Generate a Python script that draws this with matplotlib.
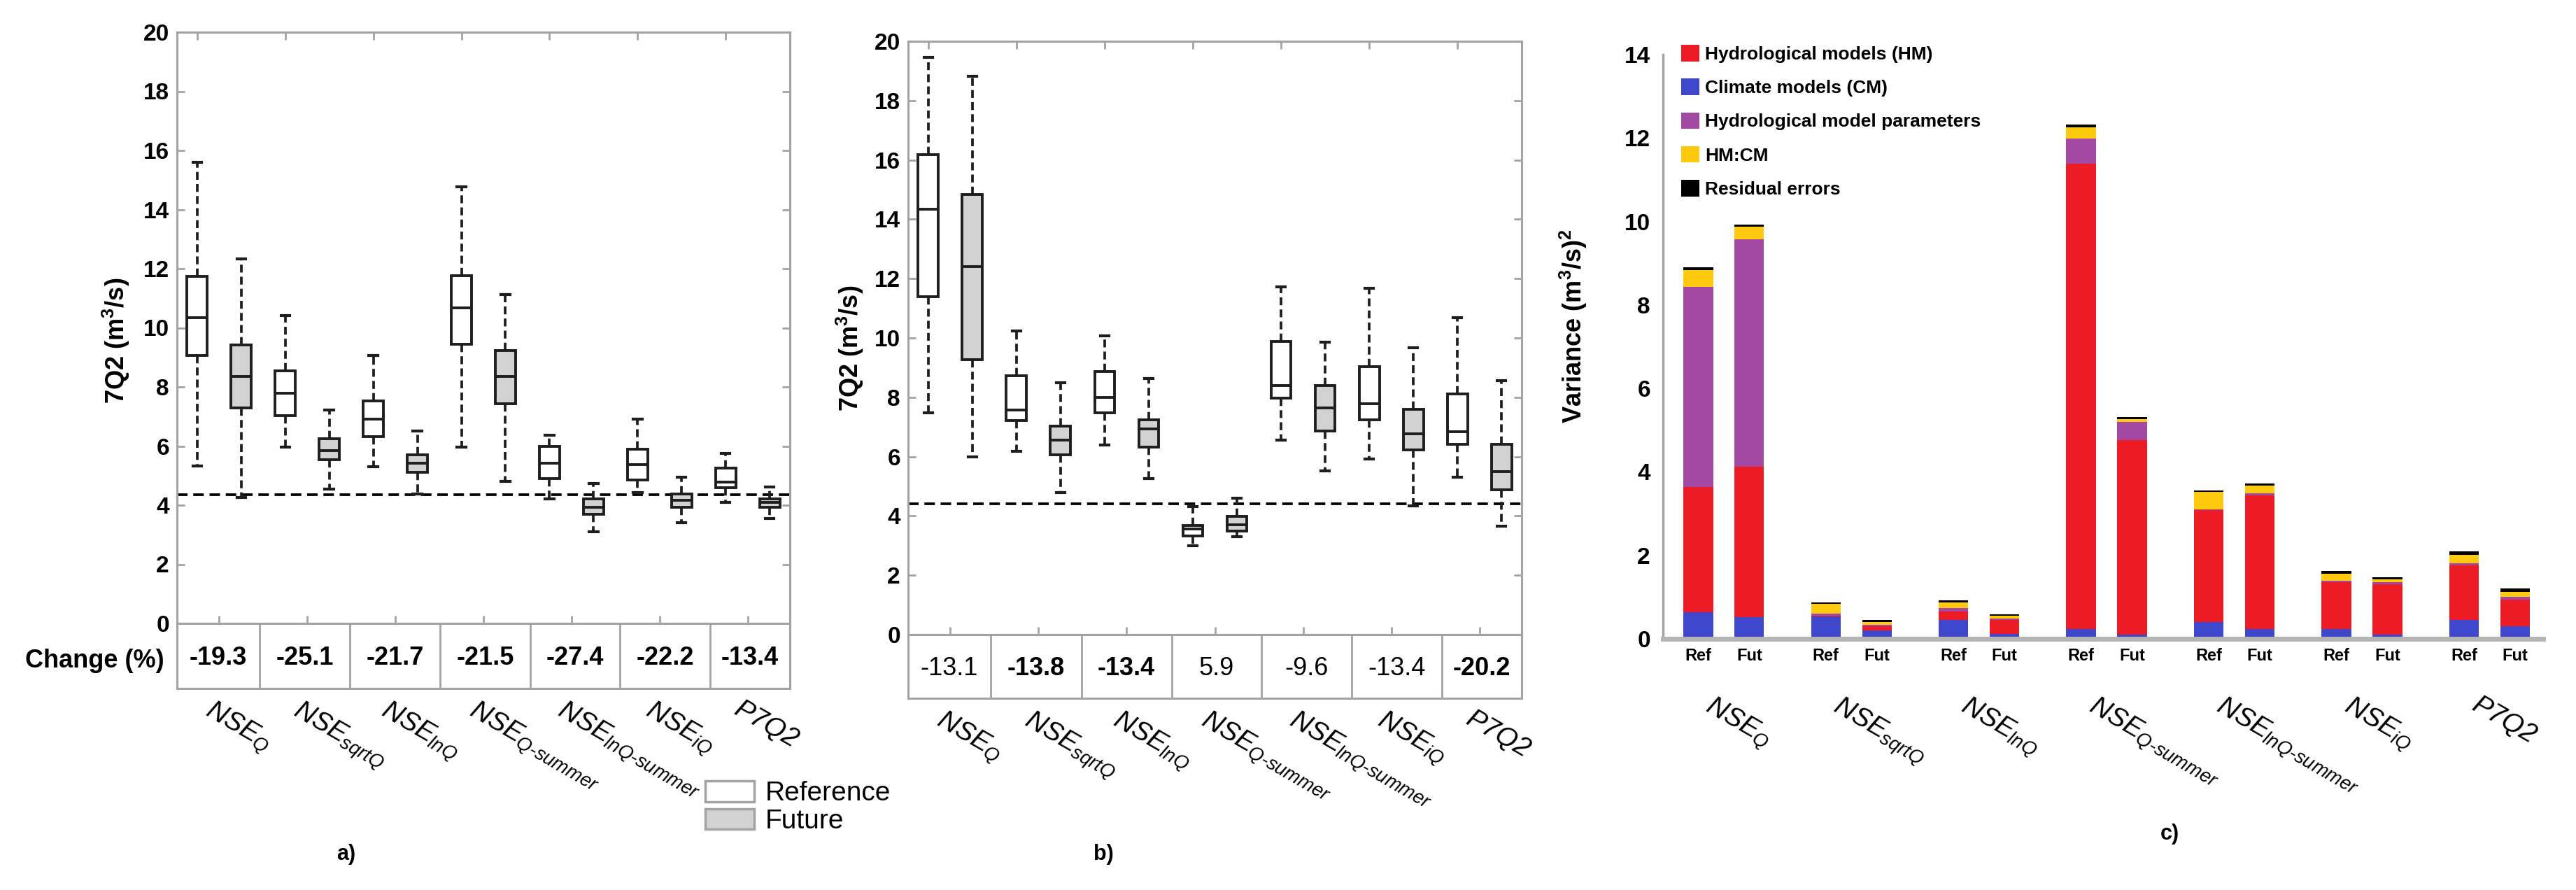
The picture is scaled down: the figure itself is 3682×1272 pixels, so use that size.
import numpy as np
import matplotlib
matplotlib.use("Agg")
import matplotlib.pyplot as plt
from matplotlib.patches import Patch
from matplotlib.transforms import blended_transform_factory

plt.rcParams['font.family'] = ['Liberation Sans', 'DejaVu Sans']
plt.rcParams['mathtext.fontset'] = 'custom'
plt.rcParams['mathtext.rm'] = 'Liberation Sans'
plt.rcParams['mathtext.it'] = 'Liberation Sans:italic'
plt.rcParams['mathtext.bf'] = 'Liberation Sans:bold'

# ---- data ----
categories = [r'$NSE_{Q}$', r'$NSE_{sqrtQ}$', r'$NSE_{lnQ}$', r'$NSE_{Q\text{-}summer}$',
              r'$NSE_{lnQ\text{-}summer}$', r'$NSE_{iQ}$', 'P7Q2']

# five-number summaries (lower whisker, q1, median, q3, upper whisker), 7Q2 in m3/s
a_ref = [[5.32, 9.07, 10.35, 11.73, 15.60],
         [5.97, 7.02, 7.78, 8.55, 10.41],
         [5.29, 6.31, 6.91, 7.53, 9.07],
         [5.97, 9.45, 10.67, 11.76, 14.77],
         [4.22, 4.90, 5.41, 5.99, 6.37],
         [4.43, 4.86, 5.38, 5.89, 6.91],
         [4.10, 4.58, 4.77, 5.25, 5.76]]
a_fut = [[4.26, 7.30, 8.36, 9.41, 12.33],
         [4.54, 5.54, 5.84, 6.25, 7.21],
         [4.39, 5.12, 5.41, 5.71, 6.50],
         [4.81, 7.43, 8.36, 9.22, 11.12],
         [3.11, 3.69, 3.92, 4.22, 4.73],
         [3.40, 3.94, 4.17, 4.39, 4.94],
         [3.56, 3.94, 4.10, 4.22, 4.61]]
a_change = [-19.3, -25.1, -21.7, -21.5, -27.4, -22.2, -13.4]
a_change_bold = [True, True, True, True, True, True, True]
a_threshold = 4.35

b_ref = [[7.47, 11.38, 14.33, 16.19, 19.46],
         [6.19, 7.22, 7.58, 8.73, 10.23],
         [6.39, 7.47, 7.99, 8.86, 10.06],
         [2.99, 3.33, 3.55, 3.68, 4.32],
         [6.55, 7.96, 8.40, 9.89, 11.73],
         [5.91, 7.24, 7.79, 9.04, 11.68],
         [5.30, 6.42, 6.84, 8.12, 10.68]]
b_fut = [[6.00, 9.27, 12.41, 14.84, 18.81],
         [4.78, 6.07, 6.55, 7.03, 8.48],
         [5.27, 6.32, 6.93, 7.25, 8.63],
         [3.31, 3.50, 3.70, 3.99, 4.59],
         [5.53, 6.86, 7.63, 8.40, 9.85],
         [4.34, 6.22, 6.77, 7.60, 9.68],
         [3.66, 4.89, 5.49, 6.42, 8.57]]
b_change = [-13.1, -13.8, -13.4, 5.9, -9.6, -13.4, -20.2]
b_change_bold = [False, True, True, False, False, False, True]
b_threshold = 4.4

# variance decomposition, (m3/s)^2
cm_ref = [0.64, 0.53, 0.46, 0.23, 0.41, 0.24, 0.45]
cm_fut = [0.52, 0.20, 0.11, 0.10, 0.23, 0.10, 0.31]
hm_ref = [3.00, 0.02, 0.20, 11.15, 2.68, 1.11, 1.31]
hm_fut = [3.61, 0.10, 0.34, 4.67, 3.21, 1.20, 0.63]
par_ref = [4.79, 0.06, 0.07, 0.60, 0.02, 0.05, 0.05]
par_fut = [5.44, 0.03, 0.03, 0.42, 0.05, 0.05, 0.06]
hmcm_ref = [0.40, 0.22, 0.14, 0.28, 0.41, 0.16, 0.21]
hmcm_fut = [0.30, 0.08, 0.07, 0.08, 0.19, 0.08, 0.13]
res_ref = [0.08, 0.05, 0.05, 0.06, 0.04, 0.06, 0.07]
res_fut = [0.05, 0.04, 0.04, 0.05, 0.05, 0.05, 0.07]

# ---- style ----
W, H = 3682, 1272
GRAY = '#a3a3a3'
EDGE = '#1e1e1e'
FUT_FILL = '#d2d2d2'
COLORS = {'Hydrological models (HM)': '#ED1C24', 'Climate models (CM)': '#3F48CC',
          'Hydrological model parameters': '#A349A4', 'HM:CM': '#FFC90E',
          'Residual errors': '#000000'}
cell_edges = [0.54, 2.41, 4.47, 6.52, 8.56, 10.6, 12.65, 14.46]

fig = plt.figure(figsize=(W / 100, H / 100), dpi=100)


def px_rect(left, top, right, bottom):
    return [left / W, 1 - bottom / H, (right - left) / W, (bottom - top) / H]


def box_panel(main_rect, table_rect, ref, fut, thr, change, bold, ylabel_xy):
    ax = fig.add_axes(main_rect)
    axt = fig.add_axes(table_rect)
    stats = []
    for i in range(len(ref)):
        for s in (ref[i], fut[i]):
            stats.append(dict(whislo=s[0], q1=s[1], med=s[2], q3=s[3], whishi=s[4], fliers=[]))
    pos = np.arange(1, len(stats) + 1)
    bp = ax.bxp(stats, positions=pos, widths=0.46, capwidths=0.2, patch_artist=True,
                showfliers=False, manage_ticks=False,
                boxprops=dict(edgecolor=EDGE, linewidth=2.8),
                medianprops=dict(color=EDGE, linewidth=2.8),
                whiskerprops=dict(color=EDGE, linewidth=2.7, linestyle=(0, (3.0, 1.6))),
                capprops=dict(color=EDGE, linewidth=3.0))
    for k, b in enumerate(bp['boxes']):
        b.set_facecolor('white' if k % 2 == 0 else FUT_FILL)
    ax.axhline(thr, color='black', lw=2.7, ls=(0, (4.0, 2.2)), zorder=1)
    ax.set_xlim(0.54, 14.46)
    ax.set_ylim(0, 20)
    ax.set_yticks(np.arange(0, 21, 2))
    ax.set_xticks(pos[::2] + 0.5)
    ax.set_xticklabels([])
    top = ax.secondary_xaxis('top')
    top.set_xticks(pos[::2])
    top.set_xticklabels([])
    top.tick_params(direction='in', length=8, width=2, color=GRAY)
    top.spines['top'].set_color(GRAY)
    top.spines['top'].set_linewidth(2.2)
    ax.tick_params(axis='both', direction='in', length=8, width=2, color=GRAY,
                   right=True, labelsize=24, pad=8)
    for lab in ax.get_yticklabels():
        lab.set_fontweight('bold')
    for sp in ax.spines.values():
        sp.set_color(GRAY)
        sp.set_linewidth(2.2)
    ax.set_ylabel(r'7Q2 (m$^{\mathbf{3}}$/s)', fontsize=26, fontweight='bold', va='center')
    ax.yaxis.set_label_coords(*ylabel_xy)

    # change table
    axt.set_xlim(ax.get_xlim())
    axt.set_ylim(0, 1)
    axt.set_xticks([])
    axt.set_yticks([])
    for sp in axt.spines.values():
        sp.set_color(GRAY)
        sp.set_linewidth(2.2)
    axt.vlines(cell_edges[1:-1], 0, 1, color=GRAY, lw=2)
    centers = pos[::2] + 0.5
    for i, c in enumerate(change):
        xc = (cell_edges[i] + cell_edges[i + 1]) / 2
        axt.text(xc, 0.47, f'{c:.1f}', ha='center', va='center', fontsize=26,
                 fontweight='bold' if bold[i] else 'normal')
    tr = blended_transform_factory(axt.transData, axt.transAxes)
    for i, lab in enumerate(categories):
        axt.text(centers[i] - 0.12, -0.13, lab, transform=tr, rotation=-30,
                 rotation_mode='anchor', ha='left', va='top', fontsize=28, style='italic')
    return ax


box_panel(px_rect(253, 46, 1129, 891), px_rect(253, 891, 1129, 984),
          a_ref, a_fut, a_threshold, a_change, a_change_bold, (-0.099, 0.478))
box_panel(px_rect(1298, 59, 2175, 907), px_rect(1298, 907, 2175, 998),
          b_ref, b_fut, b_threshold, b_change, b_change_bold, (-0.095, 0.483))

fig.text(235 / W, 1 - 945 / H, 'Change (%)', ha='right', va='center', fontsize=26,
         fontweight='bold')

fig.legend(handles=[Patch(facecolor='white', edgecolor=GRAY, lw=2.5),
                    Patch(facecolor=FUT_FILL, edgecolor=GRAY, lw=2.5)],
           labels=['Reference', 'Future'], loc='upper left',
           bbox_to_anchor=(1008 / W, 1 - 1116 / H), frameon=False, fontsize=28,
           handlelength=1.8, handleheight=0.8, handletextpad=0.4, labelspacing=0.08,
           borderpad=0, borderaxespad=0)

# ---- panel c: stacked variance bars ----
axc = fig.add_axes(px_rect(2377, 78, 3635, 913))
g = np.arange(len(categories)) * 2.5
x_ref, x_fut = g, g + 1.0
layers_ref = [('Climate models (CM)', cm_ref), ('Hydrological models (HM)', hm_ref),
              ('Hydrological model parameters', par_ref), ('HM:CM', hmcm_ref),
              ('Residual errors', res_ref)]
layers_fut = [('Climate models (CM)', cm_fut), ('Hydrological models (HM)', hm_fut),
              ('Hydrological model parameters', par_fut), ('HM:CM', hmcm_fut),
              ('Residual errors', res_fut)]
for xs, layers in ((x_ref, layers_ref), (x_fut, layers_fut)):
    bottom = np.zeros(len(xs))
    for name, vals in layers:
        axc.bar(xs, vals, bottom=bottom, width=0.58, color=COLORS[name], linewidth=0)
        bottom += np.array(vals)
axc.set_xlim(-0.69, 16.55)
axc.set_ylim(0, 14)
axc.set_yticks(np.arange(0, 15, 2))
axc.set_xticks(np.concatenate([x_ref, x_fut]))
axc.set_xticklabels(['Ref'] * len(g) + ['Fut'] * len(g))
axc.tick_params(axis='x', length=0, pad=9, labelsize=17)
axc.tick_params(axis='y', length=0, pad=13, labelsize=24)
for lab in axc.get_xticklabels() + axc.get_yticklabels():
    lab.set_fontweight('bold')
axc.spines['top'].set_visible(False)
axc.spines['right'].set_visible(False)
axc.spines['left'].set_color(GRAY)
axc.spines['left'].set_linewidth(2.5)
axc.spines['bottom'].set_color('#b4b4b4')
axc.spines['bottom'].set_linewidth(5)
axc.set_ylabel(r'Variance (m$^{\mathbf{3}}$/s)$^{\mathbf{2}}$', fontsize=26,
               fontweight='bold', va='center')
axc.yaxis.set_label_coords(-0.102, 0.535)
trc = blended_transform_factory(axc.transData, axc.transAxes)
for i, lab in enumerate(categories):
    axc.text(g[i] + 0.5 - 0.18, -0.092, lab, transform=trc, rotation=-30,
             rotation_mode='anchor', ha='left', va='top', fontsize=28, style='italic')

legend_order = ['Hydrological models (HM)', 'Climate models (CM)',
                'Hydrological model parameters', 'HM:CM', 'Residual errors']
axc.legend(handles=[Patch(facecolor=COLORS[n]) for n in legend_order], labels=legend_order,
           loc='upper left', bbox_to_anchor=(2403 / W, 1 - 64 / H),
           bbox_transform=fig.transFigure, frameon=False, prop=dict(size=19, weight='bold'),
           handlelength=1.0, handleheight=1.0, handletextpad=0.3, labelspacing=0.85,
           borderpad=0, borderaxespad=0)

fig.text(495 / W, 1 - 1221 / H, 'a)', ha='center', va='center', fontsize=22, fontweight='bold')
fig.text(1577 / W, 1 - 1221 / H, 'b)', ha='center', va='center', fontsize=22, fontweight='bold')
fig.text(3101 / W, 1 - 1192 / H, 'c)', ha='center', va='center', fontsize=22, fontweight='bold')

fig.savefig('out.png', dpi=100)
